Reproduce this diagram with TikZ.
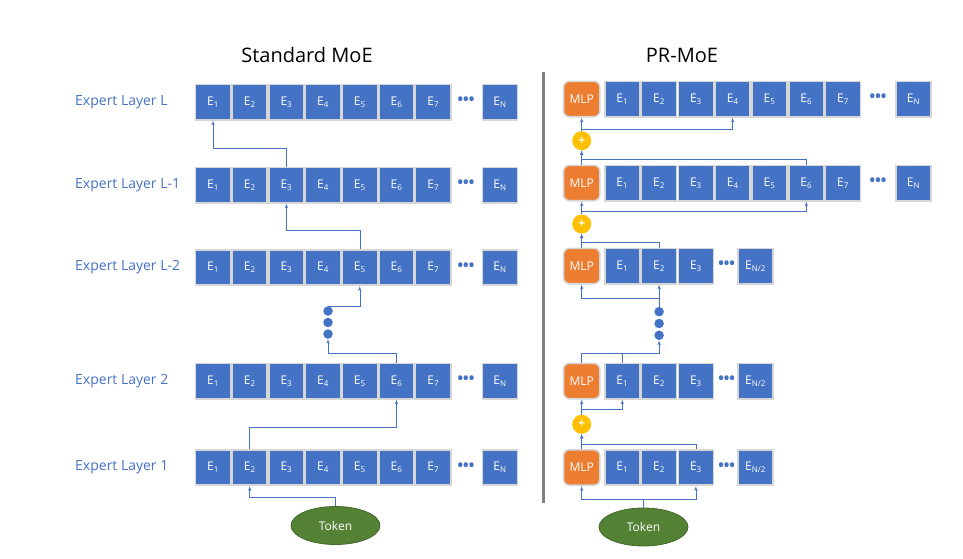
\documentclass[tikz,border=0pt]{standalone}
\usepackage{fontspec}
\setmainfont{Open Sans}
\usetikzlibrary{arrows,shapes.geometric}
\definecolor{box_blue}{RGB}{68,114,196}
\definecolor{box_gray}{RGB}{214,214,214}
\definecolor{mlp_orange}{RGB}{237,125,49}
\definecolor{plus_yellow}{RGB}{255,192,0}
\definecolor{token_green}{RGB}{84,130,53}
\definecolor{edge_blue}{RGB}{68,114,196}
\definecolor{rule_gray}{RGB}{128,128,128}
\newcommand\Ex[1]{E\textsubscript{#1}}
\newcommand\threedots{\textbullet\kern-2pt\textbullet\kern-2pt\textbullet}

\begin{document}
\begin{tikzpicture}[x=1pt,y=-1pt,>=latex']
    \tikzstyle{expert}=[draw=box_gray,line width=1.6pt,fill=box_blue,text=white,minimum width=35.1pt,minimum height=35.4pt,inner sep=0pt,font=\fontsize{12}{14}\selectfont]
    \tikzstyle{mlp}=[expert,fill=mlp_orange,rounded corners=6pt,minimum width=36.4pt,font=\fontsize{12}{14}\selectfont]
    \tikzstyle{hdots}=[text=box_blue,inner sep=0pt,font=\fontsize{20}{20}\selectfont]
    \tikzstyle{vdot}=[circle,fill=box_blue,minimum size=9.5pt,inner sep=0pt]
    \tikzstyle{plus}=[circle,fill=plus_yellow,text=white,minimum size=19pt,inner sep=0pt,font=\fontsize{12}{12}\bfseries]
    \tikzstyle{token}=[ellipse,fill=token_green,draw=token_green!80!black,line width=0.8pt,text=white,minimum width=89pt,minimum height=38pt,font=\fontsize{12}{14}\selectfont]
    \tikzstyle{layer}=[anchor=west,inner sep=0pt,text=box_blue,font=\fontsize{14}{16}\selectfont]
    \tikzstyle{title}=[anchor=base,inner sep=0pt,text=black,font=\fontsize{20}{24}\selectfont]
    \tikzstyle{link}=[->,draw=edge_blue,line width=0.6pt]

    \useasboundingbox (0,0) rectangle (963,558);

    % titles and divider
    \node[title] (tStd) at (307,62) {Standard MoE};
    \node[title] (tPR)  at (682,62) {PR-MoE};
    \draw[rule_gray,line width=2.5pt] (543.5,72) -- (543.5,503);

    % standard MoE
    \foreach \r/\y/\t in {a/102/L, b/185/L-1, c/267.5/L-2, d/381/2, e/467.5/1}{
      \node[layer] (\r L) at (75,\y) {Expert Layer \t};
      \foreach \k in {1,...,7}
        \node[expert] (\r\k) at ({213+(\k-1)*36.7},\y) {\Ex{\k}};
      \node[hdots] (\r D) at (466,\y) {\threedots};
      \node[expert] (\r N) at (500,\y) {\Ex{N}};
    }
    \node[vdot] (dL1) at (328,311) {};
    \node[vdot] (dL2) at (328,322.5) {};
    \node[vdot] (dL3) at (328,334) {};
    \node[token] (tokL) at (335.5,525.5) {Token};

    \draw[link] (tokL.north) -- ++(0,-8.5) -| (e2.south);
    \draw[link] (e2.north) -- ++(0,-22) -| (d6.south);
    \draw[link] (d6.north) -- ++(0,-9.5) -| (dL3.south);
    \draw[link] (dL1.north) -| (c5.south);
    \draw[link] (c5.north) -- ++(0,-18.5) -| (b3.south);
    \draw[link] (b3.north) -- ++(0,-18.5) -| (a1.south);

    % PR-MoE
    \foreach \r/\y in {p/99, q/183}{
      \node[mlp] (\r m) at (581.7,\y) {MLP};
      \foreach \k in {1,...,7}
        \node[expert] (\r\k) at ({622.3+(\k-1)*36.8},\y) {\Ex{\k}};
      \node[hdots] (\r D) at (878,\y) {\threedots};
      \node[expert] (\r N) at (913.5,\y) {\Ex{N}};
    }
    \foreach \r/\y in {r/266, s/381, t/467.5}{
      \node[mlp] (\r m) at (581.7,\y) {MLP};
      \foreach \k in {1,...,3}
        \node[expert] (\r\k) at ({622.3+(\k-1)*36.8},\y) {\Ex{\k}};
      \node[hdots] (\r D) at (726.7,\y) {\threedots};
      \node[expert] (\r N) at (755.5,\y) {\Ex{N/2}};
    }
    \node[plus] (pl0) at (581.7,140.7) {+};
    \node[plus] (pl1) at (581.7,224) {+};
    \node[plus] (pl2) at (581.7,424.3) {+};
    \node[vdot] (dR1) at (659.1,311.7) {};
    \node[vdot] (dR2) at (659.1,323.5) {};
    \node[vdot] (dR3) at (659.1,335.3) {};
    \node[token] (tokR) at (643.5,527) {Token};

    \draw[link,-] (tokR.north) -- ++(0,-8.5) coordinate (tj);
    \draw[link] (tj) -| (tm.south);
    \draw[link] (tj) -| (t3.south);
    \draw[link] (tm.north) -- (pl2.south);
    \draw[link] (t3.north) -- ++(0,-5) -| (pl2.south);
    \draw[link] (pl2.north) -- (sm.south);
    \draw[link] (pl2.north) -- ++(0,-5.5) -| (s1.south);
    \draw[link,-] (sm.north) -- ++(0,-9.2) coordinate (sj);
    \draw[link,-] (s1.north) -- (s1.north |- sj);
    \draw[link] (sj) -| (dR3.south);
    \draw[link,-] (dR1.north) -- ++(0,-8.5) coordinate (rj);
    \draw[link] (rj) -| (rm.south);
    \draw[link] (rj) -- (r2.south);
    \draw[link] (rm.north) -- (pl1.south);
    \draw[link] (r2.north) -- ++(0,-5) -| (pl1.south);
    \draw[link] (pl1.north) -- (qm.south);
    \draw[link] (pl1.north) -- ++(0,-3.5) -| (q6.south);
    \draw[link] (qm.north) -- (pl0.south);
    \draw[link] (q6.north) -- ++(0,-5.2) -| (pl0.south);
    \draw[link] (pl0.north) -- (pm.south);
    \draw[link] (pl0.north) -- ++(0,-2.2) -| (p4.south);
\end{tikzpicture}
\end{document}
